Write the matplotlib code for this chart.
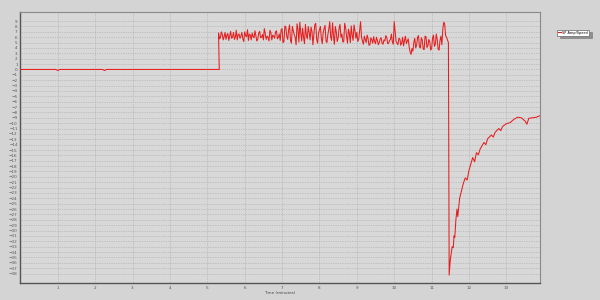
import numpy as np
import matplotlib
matplotlib.use("Agg")
import matplotlib.pyplot as plt

# flat part before the step (minutes, value)
flat_t = [0.0, 0.95, 1.0, 1.05, 2.2, 2.25, 2.3, 5.32]
flat_v = [0.0, 0.0, -0.2, 0.0, 0.0, -0.2, 0.0, 0.0]

# noisy plateau, sampled every 0.05 min starting at 5.30 (plus the in-between samples)
noise_start = 5.30
noise_step = 0.05
noise_v = [
    6.8, 5.9, 6.5, 6.1, 5.6, 6.7, 6.3, 5.8, 6.9, 6.0, 5.5, 6.6, 6.2, 5.7, 7.0, 6.1, 5.4,
    6.4, 6.8, 5.9, 6.3, 5.6, 7.1, 6.0, 5.5, 6.7, 6.2, 5.3, 6.9, 6.4, 5.8, 7.2, 6.0, 5.4,
    7.6, 5.2, 7.9, 5.6, 8.3, 4.9, 7.2, 6.0, 8.5, 5.1, 6.8, 7.7, 4.8, 6.3, 8.0, 5.5, 7.1,
    6.4, 8.6, 4.9, 7.4, 5.8, 6.9, 8.2, 5.0, 7.5, 6.1, 8.7, 4.7, 7.0, 5.9, 8.4, 6.6, 5.2,
    7.8, 4.9, 6.7, 8.1, 5.4, 7.2,
    6.9, 5.6, 8.9, 5.3, 6.2, 5.0, 5.8, 4.6, 5.5, 6.1, 4.8, 5.4, 5.0, 5.9, 4.7, 5.3, 6.0,
    4.9, 5.6, 5.1, 8.9, 5.2, 4.6, 5.7, 5.0, 4.4, 6.2, 5.3, 4.2, 2.8,
    3.4, 5.8, 4.5, 6.3, 4.0, 5.5, 3.7, 6.1, 4.4, 5.2, 3.9, 6.4, 4.7, 5.6, 3.6, 6.2, 7.5,
    8.5, 6.0,
]
noise_mid = [
    5.7, 7.0, 5.5, 6.9, 6.4, 5.4, 7.1, 6.0, 5.6, 7.3, 6.5, 5.8, 6.9, 5.2, 6.3, 7.4, 6.6,
    5.5, 6.1, 7.2, 5.3, 6.8, 5.9, 6.5, 7.6, 5.6, 6.0, 7.3, 5.5, 6.2, 7.0, 5.7, 6.6, 7.4,
    5.0, 8.1, 6.2, 7.3, 5.4, 8.0, 6.5, 4.6, 7.4, 8.8, 5.3, 6.0, 8.4, 5.7, 6.9, 7.9, 4.6,
    8.3, 5.6, 6.7, 8.0, 4.8, 7.6, 5.3, 6.5, 8.9, 5.4, 6.3, 8.0, 5.2, 7.7, 6.0, 5.1, 8.6,
    6.2, 7.5, 5.0, 6.4, 8.3, 5.8,
    5.2, 7.3, 6.0, 4.7, 5.6, 6.4, 4.5, 5.9, 4.9, 5.2, 6.0, 4.6, 5.7, 4.9, 5.5, 6.3, 4.8,
    5.4, 6.6, 4.7, 7.0, 4.9, 5.8, 4.5, 6.0, 5.4, 4.8, 5.7, 3.3, 3.9,
    5.1, 4.0, 6.0, 4.2, 5.9, 3.8, 6.2, 4.1, 5.6, 3.6, 5.8, 4.3, 6.6, 3.8, 5.4, 4.6, 8.8,
    6.3, 5.5,
]

# drop and recovery
rec_t = [11.45, 11.47, 11.50, 11.55, 11.58, 11.60, 11.62, 11.65, 11.68, 11.70, 11.75,
         11.80, 11.85, 11.90, 11.95, 12.00, 12.05, 12.10, 12.15, 12.20, 12.25, 12.30,
         12.40, 12.45, 12.50, 12.60, 12.65, 12.70, 12.80, 12.85, 12.90, 13.00, 13.10,
         13.20, 13.30, 13.40, 13.50, 13.55, 13.60, 13.70, 13.80, 13.90]
rec_v = [5.0, -38.3, -35.5, -33.0, -33.2, -31.0, -31.3, -28.0, -26.0, -27.4, -24.0,
         -22.6, -21.2, -20.2, -20.6, -18.8, -17.6, -16.4, -17.2, -15.5, -15.9, -14.8,
         -13.6, -14.0, -12.9, -12.2, -12.6, -11.7, -11.0, -11.4, -10.6, -10.1, -9.9,
         -9.3, -8.9, -9.0, -9.6, -10.2, -9.1, -9.0, -8.9, -8.6]

base_t = noise_start + noise_step * np.arange(len(noise_v))
noise_t = np.column_stack([base_t, base_t + noise_step / 2]).ravel()
noise_all = np.column_stack([noise_v, noise_mid]).ravel()

t = np.concatenate([flat_t, noise_t, rec_t])
v = np.concatenate([flat_v, noise_all, rec_v])

fig = plt.figure(figsize=(6, 3), dpi=100, facecolor="#d4d4d4")
ax = fig.add_axes([0.034, 0.057, 0.866, 0.903], facecolor="#d8d8d8")
ax.set_axisbelow(True)
ax.plot(t, v, color="#e81c1c", lw=0.75, label="SP Amp/Speed", zorder=3)

ax.set_xlim(0, 13.9)
ax.set_ylim(-39.75, 10.7)
ax.set_xticks(range(1, 14))
ax.set_yticks(range(-38, 10))
ax.tick_params(labelsize=3, length=0, pad=2, colors="#555555")
ax.grid(True, color="#a8a8a8", ls=(0, (1, 1.5)), lw=0.5)
ax.set_xlabel("Time (minutes)", fontsize=3, labelpad=1, color="#444444")
for side in ["top", "right"]:
    ax.spines[side].set_color("#8a8a8a")
    ax.spines[side].set_linewidth(0.8)
for side in ["left", "bottom"]:
    ax.spines[side].set_color("#555555")
    ax.spines[side].set_linewidth(1.0)

leg = ax.legend(loc="upper left", bbox_to_anchor=(1.033, 0.935), fontsize=2.5,
                frameon=True, fancybox=False, shadow=True, handlelength=0.8,
                handletextpad=0.4, borderpad=0.3, borderaxespad=0)
leg.get_frame().set_edgecolor("#666666")
leg.get_frame().set_linewidth(0.5)

fig.savefig("out.png", dpi=100, facecolor=fig.get_facecolor())
